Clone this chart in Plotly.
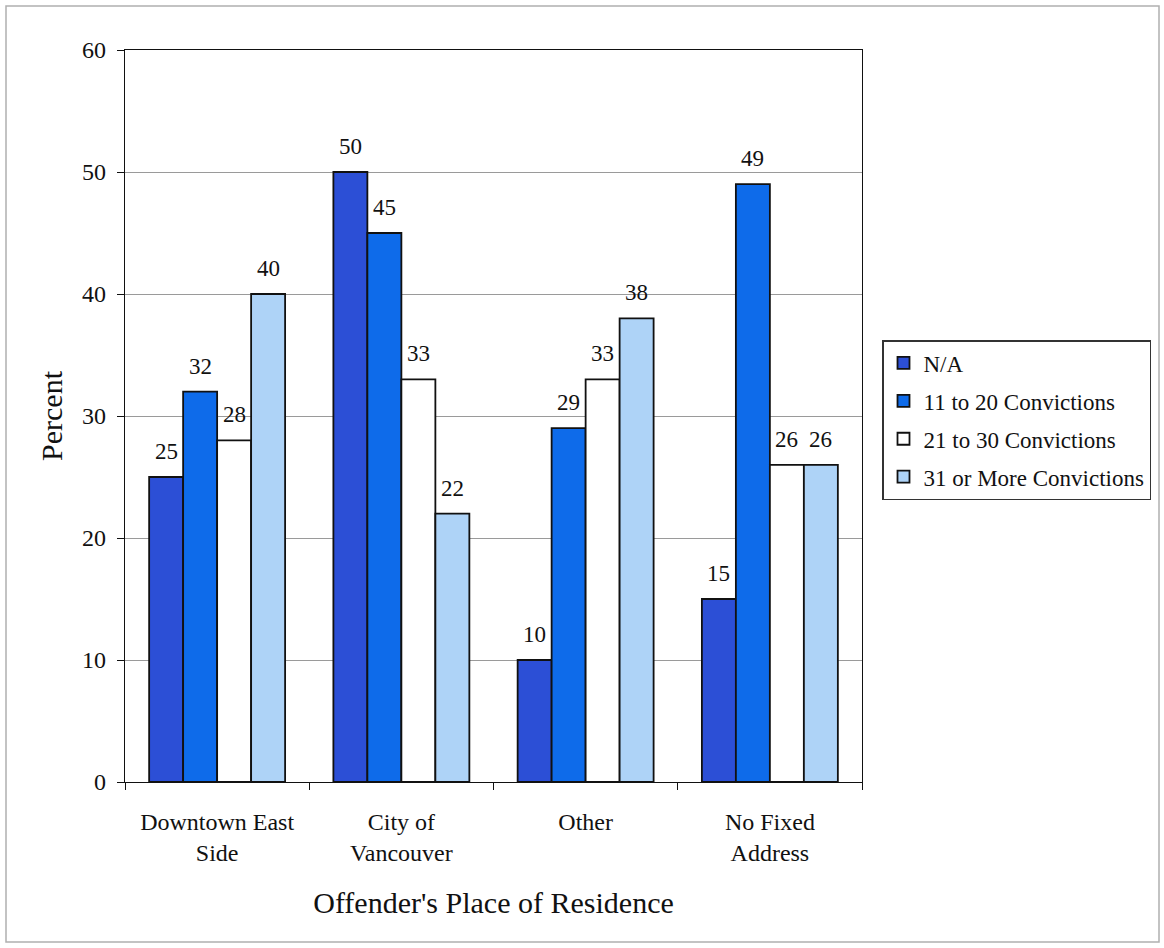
import plotly.graph_objects as go

categories = ["Downtown East<br>Side", "City of<br>Vancouver", "Other", "No Fixed<br>Address"]
series_names = ["N/A", "11 to 20 Convictions", "21 to 30 Convictions", "31 or More Convictions"]
na_vals = [25, 50, 10, 15]
c11_20 = [32, 45, 29, 49]
c21_30 = [28, 33, 33, 26]
c31_plus = [40, 22, 38, 26]
y_ticks = [0, 10, 20, 30, 40, 50, 60]

colors = ["#2C4FD6", "#0E6BEA", "#FFFFFF", "#AED3F7"]
values = [na_vals, c11_20, c21_30, c31_plus]

W, H = 1164, 948
L, R, T, B = 125, 302, 50, 166
pw, ph = W - L - R, H - T - B
BARGAP = 0.262

font_family = "Liberation Serif"

fig = go.Figure()
for name, vals, col in zip(series_names, values, colors):
    fig.add_trace(go.Bar(
        x=categories, y=vals, name=name, legendgroup=name,
        marker=dict(color=col, line=dict(color="#111111", width=1.8)),
        cliponaxis=False,
    ))

# value labels above each bar, offset horizontally to the bar's slot in its group
n_series = len(values)
bar_px = (pw / len(categories)) * (1 - BARGAP) / n_series
for i, vals in enumerate(values):
    for cat, v in zip(categories, vals):
        fig.add_annotation(
            x=cat, y=v, text=str(v), showarrow=False,
            xshift=(i - (n_series - 1) / 2) * bar_px, yshift=11,
            yanchor="bottom", xanchor="center",
            font=dict(family=font_family, size=23, color="#111111"),
        )

fig.update_layout(
    width=W, height=H,
    margin=dict(l=L, r=R, t=T, b=B),
    barmode="group", bargap=BARGAP, bargroupgap=0,
    plot_bgcolor="white", paper_bgcolor="white",
    font=dict(family=font_family, size=24, color="#111111"),
    showlegend=True,
    legend=dict(
        x=(882 - L) / pw, y=(782 - 420) / ph, xanchor="left", yanchor="middle",
        bordercolor="#333333", borderwidth=1.5, bgcolor="white",
        font=dict(family=font_family, size=23, color="#111111"),
        tracegroupgap=5,
    ),
)

fig.update_xaxes(
    showline=True, linecolor="#111111", linewidth=1.2, mirror=True,
    ticks="outside", tickson="boundaries", ticklen=7, tickcolor="#111111",
    ticklabelstandoff=18,
    tickfont=dict(family=font_family, size=24),
    title=dict(text="Offender's Place of Residence", font=dict(family=font_family, size=30), standoff=26),
    showgrid=False,
)
fig.update_yaxes(
    range=[0, 60], tickvals=y_ticks, ticks="outside", ticklen=7, tickcolor="#111111",
    ticklabelstandoff=6,
    showline=True, linecolor="#111111", linewidth=1.2, mirror=True,
    showgrid=True, gridcolor="#9a9a9a", gridwidth=1,
    tickfont=dict(family=font_family, size=24),
    title=dict(text="Percent", font=dict(family=font_family, size=30), standoff=10),
    zeroline=False,
)

# thin page frame around the whole figure
fig.add_shape(
    type="rect", xref="paper", yref="paper",
    x0=(6 - L) / pw, x1=(1159 - L) / pw,
    y0=(H - B - 942) / ph, y1=(H - B - 6) / ph,
    line=dict(color="#b0b0b0", width=1.5), layer="below",
)

fig.write_html("out.html")
